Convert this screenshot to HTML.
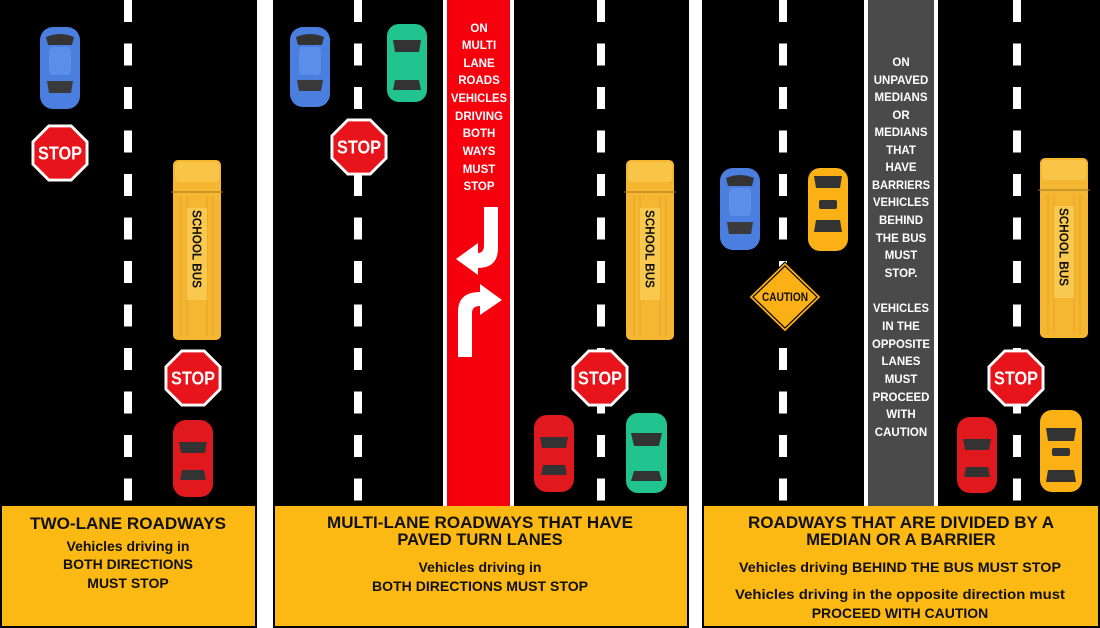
<!DOCTYPE html>
<html><head><meta charset="utf-8"><style>
html,body{margin:0;padding:0;background:#fff;}
svg{display:block;}
text{font-family:"Liberation Sans",sans-serif;font-weight:bold;}
</style></head><body>
<svg width="1100" height="628" viewBox="0 0 1100 628" xmlns="http://www.w3.org/2000/svg">
<defs>
<pattern id="dash" x="0" y="0" width="8" height="43.5" patternUnits="userSpaceOnUse">
<rect x="0" y="0" width="8" height="22" fill="#fff"/>
</pattern>
<g id="stop">
<polygon points="-11.8,-28.5 11.8,-28.5 28.5,-11.8 28.5,11.8 11.8,28.5 -11.8,28.5 -28.5,11.8 -28.5,-11.8" fill="#fff"/>
<polygon points="-10.6,-25.6 10.6,-25.6 25.6,-10.6 25.6,10.6 10.6,25.6 -10.6,25.6 -25.6,10.6 -25.6,-10.6" fill="#e8141c"/>
<text x="0" y="6.5" font-size="18" fill="#fff" text-anchor="middle" textLength="44" lengthAdjust="spacingAndGlyphs">STOP</text>
</g>
<g id="bus">
<rect x="0" y="0" width="48" height="180" rx="5" fill="#f5b731"/>
<rect x="2" y="2" width="44" height="20" rx="4" fill="#f8c548"/>
<line x1="-2" y1="32" x2="50" y2="32" stroke="#a07a20" stroke-width="1"/>
<g stroke="#e0a020" stroke-width="0.8">
<line x1="8" y1="36" x2="8" y2="176"/><line x1="14" y1="36" x2="14" y2="176"/><line x1="34" y1="36" x2="34" y2="176"/><line x1="40" y1="36" x2="40" y2="176"/>
</g>
<rect x="14" y="48" width="20" height="92" fill="#f9c84f"/>
<text transform="translate(19.5,89) rotate(90)" font-size="12.5" fill="#111" text-anchor="middle" textLength="78" lengthAdjust="spacingAndGlyphs">SCHOOL BUS</text>
</g>
</defs>

<rect x="0" y="0" width="257" height="628" fill="#000"/>
<rect x="273" y="0" width="416" height="628" fill="#000"/>
<rect x="702" y="0" width="398" height="628" fill="#000"/>

<rect x="124" y="0" width="8" height="506" fill="url(#dash)"/>
<rect x="354" y="0" width="8" height="506" fill="url(#dash)"/>
<rect x="597" y="0" width="8" height="506" fill="url(#dash)"/>
<rect x="779" y="0" width="8" height="506" fill="url(#dash)"/>
<rect x="1013" y="0" width="8" height="506" fill="url(#dash)"/>

<rect x="443" y="0" width="71" height="506" fill="#fff"/>
<rect x="447" y="0" width="63" height="506" fill="#f5000c"/>
<g font-size="11.5" fill="#fff" text-anchor="middle">
<text x="479" y="32">ON</text><text x="479" y="49">MULTI</text><text x="479" y="67">LANE</text><text x="479" y="84">ROADS</text><text x="479" y="102" textLength="56" lengthAdjust="spacingAndGlyphs">VEHICLES</text><text x="479" y="120">DRIVING</text><text x="479" y="137">BOTH</text><text x="479" y="155">WAYS</text><text x="479" y="173">MUST</text><text x="479" y="190">STOP</text>
</g>
<path d="M484 207 L498 207 L498 248 Q498 268 478 268 L478 275 L456 259 L478 243 L478 253 Q484 253 484 245 Z" fill="#fff"/>
<path d="M458 357 L472 357 L472 313 Q472 306 480 306 L480 315 L502 300 L480 284 L480 292 Q458 292 458 312 Z" fill="#fff"/>

<rect x="864" y="0" width="74" height="506" fill="#fff"/>
<rect x="868" y="0" width="66" height="506" fill="#4a4a4a"/>
<g font-size="11.5" fill="#fff" text-anchor="middle">
<text x="901" y="66">ON</text><text x="901" y="84">UNPAVED</text><text x="901" y="101">MEDIANS</text><text x="901" y="119">OR</text><text x="901" y="136">MEDIANS</text><text x="901" y="154">THAT</text><text x="901" y="171">HAVE</text><text x="901" y="189" textLength="58" lengthAdjust="spacingAndGlyphs">BARRIERS</text><text x="901" y="206" textLength="56" lengthAdjust="spacingAndGlyphs">VEHICLES</text><text x="901" y="224">BEHIND</text><text x="901" y="242">THE BUS</text><text x="901" y="259">MUST</text><text x="901" y="277">STOP.</text>
<text x="901" y="312" textLength="56" lengthAdjust="spacingAndGlyphs">VEHICLES</text><text x="901" y="330">IN THE</text><text x="901" y="348" textLength="58" lengthAdjust="spacingAndGlyphs">OPPOSITE</text><text x="901" y="365">LANES</text><text x="901" y="383">MUST</text><text x="901" y="401">PROCEED</text><text x="901" y="418">WITH</text><text x="901" y="436">CAUTION</text>
</g>

<g transform="translate(40,27)">
<rect x="0" y="0" width="40" height="82" rx="13" fill="#4a7fe0"/>
<path d="M6 10 Q20 4 34 10 L32 18 L8 18 Z" fill="#333"/>
<rect x="9" y="20" width="22" height="28" rx="4" fill="#5b8ee8"/>
<path d="M7 54 L33 54 L31 66 L9 66 Z" fill="#3a3a3a"/>
</g>
<g transform="translate(290,27)">
<rect x="0" y="0" width="40" height="80" rx="13" fill="#4a7fe0"/>
<path d="M6 10 Q20 4 34 10 L32 18 L8 18 Z" fill="#333"/>
<rect x="9" y="20" width="22" height="28" rx="4" fill="#5b8ee8"/>
<path d="M7 53 L33 53 L31 64 L9 64 Z" fill="#3a3a3a"/>
</g>
<g transform="translate(720,168)">
<rect x="0" y="0" width="40" height="82" rx="13" fill="#4a7fe0"/>
<path d="M6 10 Q20 4 34 10 L32 18 L8 18 Z" fill="#333"/>
<rect x="9" y="20" width="22" height="28" rx="4" fill="#5b8ee8"/>
<path d="M7 54 L33 54 L31 66 L9 66 Z" fill="#3a3a3a"/>
</g>
<g transform="translate(387,24)">
<rect x="0" y="0" width="40" height="78" rx="12" fill="#21c48e"/>
<path d="M6 16 L34 16 L32 28 L8 28 Z" fill="#333"/>
<path d="M8 56 L32 56 L34 66 L6 66 Z" fill="#333"/>
</g>
<g transform="translate(626,413)">
<rect x="0" y="0" width="41" height="80" rx="12" fill="#21c48e"/>
<path d="M5 20 L36 20 L33 33 L8 33 Z" fill="#333"/>
<path d="M8 58 L33 58 L36 68 L5 68 Z" fill="#333"/>
</g>
<g transform="translate(173,420)">
<rect x="0" y="0" width="40" height="77" rx="13" fill="#e0191f"/>
<path d="M6 22 L34 22 L32 33 L8 33 Z" fill="#333"/>
<path d="M9 50 L31 50 L33 60 L7 60 Z" fill="#333"/>
</g>
<g transform="translate(534,415)">
<rect x="0" y="0" width="40" height="77" rx="13" fill="#e0191f"/>
<path d="M6 22 L34 22 L32 33 L8 33 Z" fill="#333"/>
<path d="M9 50 L31 50 L33 60 L7 60 Z" fill="#333"/>
</g>
<g transform="translate(957,417)">
<rect x="0" y="0" width="40" height="76" rx="13" fill="#e0191f"/>
<path d="M6 22 L34 22 L32 33 L8 33 Z" fill="#333"/>
<path d="M9 50 L31 50 L33 60 L7 60 Z" fill="#333"/>
</g>
<g transform="translate(808,168)">
<rect x="0" y="0" width="40" height="83" rx="12" fill="#fbb116"/>
<path d="M6 8 L34 8 L32 20 L8 20 Z" fill="#333"/>
<rect x="11" y="32" width="18" height="9" rx="2" fill="#333"/>
<path d="M8 52 L32 52 L34 64 L6 64 Z" fill="#333"/>
</g>
<g transform="translate(1040,410)">
<rect x="0" y="0" width="42" height="82" rx="12" fill="#fbb116"/>
<path d="M6 18 L36 18 L34 31 L8 31 Z" fill="#333"/>
<rect x="12" y="38" width="18" height="8" rx="2" fill="#333"/>
<path d="M8 60 L34 60 L36 72 L6 72 Z" fill="#333"/>
</g>

<use href="#bus" x="173" y="160"/>
<use href="#bus" x="626" y="160"/>
<use href="#bus" x="1040" y="158"/>

<use href="#stop" x="60" y="153"/>
<use href="#stop" x="193" y="378"/>
<use href="#stop" x="359" y="147"/>
<use href="#stop" x="600" y="378"/>
<use href="#stop" x="1016" y="378"/>

<polygon points="785,262 821,297 785,332 749,297" fill="#fbb116" stroke="#000" stroke-width="1"/>
<polygon points="785,266 817,297 785,328 753,297" fill="none" stroke="#000" stroke-width="1.2"/>
<text x="785" y="301" font-size="11.5" fill="#111" text-anchor="middle" textLength="46" lengthAdjust="spacingAndGlyphs">CAUTION</text>

<rect x="2" y="506" width="253" height="120" fill="#fdb913"/>
<rect x="275" y="506" width="412" height="120" fill="#fdb913"/>
<rect x="704" y="506" width="394" height="120" fill="#fdb913"/>

<g fill="#111" text-anchor="middle">
<text x="128" y="529" font-size="16.5" textLength="196" lengthAdjust="spacingAndGlyphs">TWO-LANE ROADWAYS</text>
<text x="128" y="551" font-size="14">Vehicles driving in</text>
<text x="128" y="569" font-size="14">BOTH DIRECTIONS</text>
<text x="128" y="588" font-size="14">MUST STOP</text>

<text x="480" y="528" font-size="16.5" textLength="306" lengthAdjust="spacingAndGlyphs">MULTI-LANE ROADWAYS THAT HAVE</text>
<text x="480" y="545" font-size="16.5">PAVED TURN LANES</text>
<text x="480" y="572" font-size="14">Vehicles driving in</text>
<text x="480" y="591" font-size="14" textLength="216" lengthAdjust="spacingAndGlyphs">BOTH DIRECTIONS MUST STOP</text>

<text x="901" y="528" font-size="16.5" textLength="306" lengthAdjust="spacingAndGlyphs">ROADWAYS THAT ARE DIVIDED BY A</text>
<text x="901" y="545" font-size="16.5">MEDIAN OR A BARRIER</text>
<text x="900" y="572" font-size="14" textLength="322" lengthAdjust="spacingAndGlyphs">Vehicles driving BEHIND THE BUS MUST STOP</text>
<text x="900" y="599" font-size="14" textLength="330" lengthAdjust="spacingAndGlyphs">Vehicles driving in the opposite direction must</text>
<text x="900" y="618" font-size="14">PROCEED WITH CAUTION</text>
</g>
</svg>
</body></html>
